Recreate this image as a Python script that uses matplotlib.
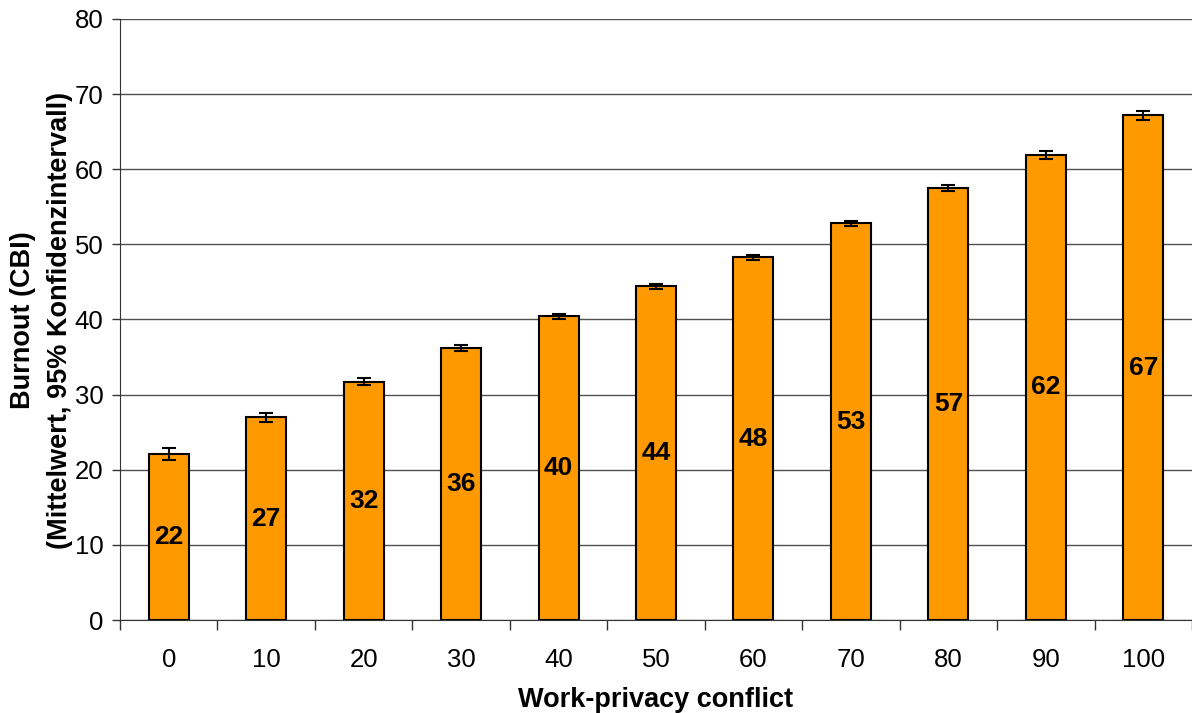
import matplotlib
matplotlib.use("Agg")
import matplotlib.pyplot as plt
import numpy as np

plt.rcParams['font.family'] = ['Liberation Sans', 'DejaVu Sans']

categories = ["0", "10", "20", "30", "40", "50", "60", "70", "80", "90", "100"]
means = [22.1, 27.0, 31.7, 36.2, 40.4, 44.4, 48.3, 52.8, 57.5, 61.9, 67.2]
errors = [0.75, 0.6, 0.45, 0.35, 0.35, 0.35, 0.35, 0.3, 0.35, 0.5, 0.6]
labels = ["22", "27", "32", "36", "40", "44", "48", "53", "57", "62", "67"]

fig = plt.figure(figsize=(11.92, 7.13), dpi=100)
ax = fig.add_axes([0.1007, 0.1304, 0.8993, 0.843])

x = np.arange(len(categories))
ax.set_axisbelow(True)
ax.yaxis.grid(True, color='#505050', linewidth=1)
bars = ax.bar(x, means, width=0.41, color='#FF9900', edgecolor='black', linewidth=1.5,
              yerr=errors, error_kw=dict(ecolor='black', elinewidth=1.5, capsize=5, capthick=1.5))
for xi, m, lab in zip(x, means, labels):
    ax.text(xi, m / 2, lab, ha='center', va='center', fontsize=19, fontweight='bold')

ax.set_xlim(-0.5, 10.5)
ax.set_ylim(0, 80)
ax.set_yticks(range(0, 81, 10))
ax.set_xticks(x)
ax.set_xticklabels(categories)
ax.set_xticks(np.arange(-0.5, 10.6, 1), minor=True)
ax.tick_params(axis='x', which='major', length=0, labelsize=18.5, pad=20)
ax.tick_params(axis='x', which='minor', length=7, width=1, direction='out', color='#333333')
ax.tick_params(axis='y', length=6, width=1, labelsize=18.5, color='#333333', pad=6)
for s in ['top', 'right']:
    ax.spines[s].set_visible(False)
ax.spines['left'].set_color('#333333')
ax.spines['bottom'].set_color('#333333')
ax.set_xlabel('Work-privacy conflict', fontsize=19.5, fontweight='bold', labelpad=11)
fig.text(42 / 1192, 1 - 320 / 713, 'Burnout (CBI)\n(Mittelwert, 95% Konfidenzintervall)',
         rotation=90, ha='center', va='center', fontsize=19.5, fontweight='bold',
         linespacing=1.55, multialignment='center')

fig.savefig('out.png', dpi=100)
